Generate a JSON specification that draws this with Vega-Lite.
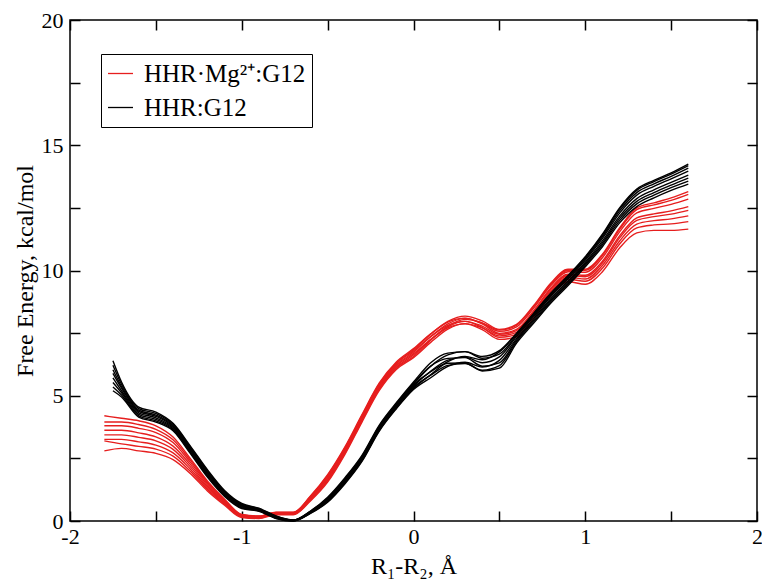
{
"$schema": "https://vega.github.io/schema/vega-lite/v6.json",
"width": 687, "height": 501,
"autosize": {"type": "none"},
"padding": {"left": 70, "top": 20, "right": 5, "bottom": 58},
"background": "white",
"datasets": {
"red": [
{"g":"m","s":"r1","x":-1.8,"y":4.2},{"g":"m","s":"r1","x":-1.7,"y":4.1},{"g":"m","s":"r1","x":-1.6,"y":4.0},{"g":"m","s":"r1","x":-1.5,"y":3.8},{"g":"m","s":"r1","x":-1.4,"y":3.35},{"g":"m","s":"r1","x":-1.3,"y":2.5},{"g":"m","s":"r1","x":-1.2,"y":1.6},{"g":"m","s":"r1","x":-1.1,"y":0.87},{"g":"m","s":"r1","x":-1.0,"y":0.26},{"g":"m","s":"r1","x":-0.9,"y":0.2},{"g":"m","s":"r1","x":-0.8,"y":0.35},{"g":"m","s":"r1","x":-0.7,"y":0.35},{"g":"m","s":"r1","x":-0.6,"y":1.0},{"g":"m","s":"r1","x":-0.5,"y":1.85},{"g":"m","s":"r1","x":-0.4,"y":2.95},{"g":"m","s":"r1","x":-0.3,"y":4.25},{"g":"m","s":"r1","x":-0.2,"y":5.5},{"g":"m","s":"r1","x":-0.1,"y":6.35},{"g":"m","s":"r1","x":0.0,"y":6.88},{"g":"m","s":"r1","x":0.1,"y":7.47},{"g":"m","s":"r1","x":0.2,"y":7.94},{"g":"m","s":"r1","x":0.3,"y":8.1},{"g":"m","s":"r1","x":0.4,"y":7.87},{"g":"m","s":"r1","x":0.5,"y":7.49},{"g":"m","s":"r1","x":0.6,"y":7.65},{"g":"m","s":"r1","x":0.7,"y":8.4},{"g":"m","s":"r1","x":0.8,"y":9.3},{"g":"m","s":"r1","x":0.9,"y":9.85},{"g":"m","s":"r1","x":1.0,"y":9.81},{"g":"m","s":"r1","x":1.1,"y":10.37},{"g":"m","s":"r1","x":1.2,"y":11.38},{"g":"m","s":"r1","x":1.3,"y":12.1},{"g":"m","s":"r1","x":1.4,"y":12.26},{"g":"m","s":"r1","x":1.5,"y":12.38},{"g":"m","s":"r1","x":1.6,"y":12.55},
{"g":"m","s":"r2","x":-1.8,"y":3.95},{"g":"m","s":"r2","x":-1.7,"y":3.95},{"g":"m","s":"r2","x":-1.6,"y":3.85},{"g":"m","s":"r2","x":-1.5,"y":3.66},{"g":"m","s":"r2","x":-1.4,"y":3.24},{"g":"m","s":"r2","x":-1.3,"y":2.43},{"g":"m","s":"r2","x":-1.2,"y":1.55},{"g":"m","s":"r2","x":-1.1,"y":0.84},{"g":"m","s":"r2","x":-1.0,"y":0.25},{"g":"m","s":"r2","x":-0.9,"y":0.19},{"g":"m","s":"r2","x":-0.8,"y":0.34},{"g":"m","s":"r2","x":-0.7,"y":0.34},{"g":"m","s":"r2","x":-0.6,"y":0.98},{"g":"m","s":"r2","x":-0.5,"y":1.81},{"g":"m","s":"r2","x":-0.4,"y":2.91},{"g":"m","s":"r2","x":-0.3,"y":4.21},{"g":"m","s":"r2","x":-0.2,"y":5.46},{"g":"m","s":"r2","x":-0.1,"y":6.31},{"g":"m","s":"r2","x":0.0,"y":6.84},{"g":"m","s":"r2","x":0.1,"y":7.46},{"g":"m","s":"r2","x":0.2,"y":7.97},{"g":"m","s":"r2","x":0.3,"y":8.18},{"g":"m","s":"r2","x":0.4,"y":7.99},{"g":"m","s":"r2","x":0.5,"y":7.65},{"g":"m","s":"r2","x":0.6,"y":7.85},{"g":"m","s":"r2","x":0.7,"y":8.6},{"g":"m","s":"r2","x":0.8,"y":9.5},{"g":"m","s":"r2","x":0.9,"y":10.05},{"g":"m","s":"r2","x":1.0,"y":10.05},{"g":"m","s":"r2","x":1.1,"y":10.65},{"g":"m","s":"r2","x":1.2,"y":11.7},{"g":"m","s":"r2","x":1.3,"y":12.5},{"g":"m","s":"r2","x":1.4,"y":12.7},{"g":"m","s":"r2","x":1.5,"y":12.9},{"g":"m","s":"r2","x":1.6,"y":13.15},
{"g":"m","s":"r3","x":-1.8,"y":3.8},{"g":"m","s":"r3","x":-1.7,"y":3.8},{"g":"m","s":"r3","x":-1.6,"y":3.7},{"g":"m","s":"r3","x":-1.5,"y":3.53},{"g":"m","s":"r3","x":-1.4,"y":3.13},{"g":"m","s":"r3","x":-1.3,"y":2.35},{"g":"m","s":"r3","x":-1.2,"y":1.5},{"g":"m","s":"r3","x":-1.1,"y":0.81},{"g":"m","s":"r3","x":-1.0,"y":0.23},{"g":"m","s":"r3","x":-0.9,"y":0.18},{"g":"m","s":"r3","x":-0.8,"y":0.33},{"g":"m","s":"r3","x":-0.7,"y":0.33},{"g":"m","s":"r3","x":-0.6,"y":0.95},{"g":"m","s":"r3","x":-0.5,"y":1.78},{"g":"m","s":"r3","x":-0.4,"y":2.88},{"g":"m","s":"r3","x":-0.3,"y":4.18},{"g":"m","s":"r3","x":-0.2,"y":5.43},{"g":"m","s":"r3","x":-0.1,"y":6.28},{"g":"m","s":"r3","x":0.0,"y":6.79},{"g":"m","s":"r3","x":0.1,"y":7.36},{"g":"m","s":"r3","x":0.2,"y":7.81},{"g":"m","s":"r3","x":0.3,"y":7.97},{"g":"m","s":"r3","x":0.4,"y":7.72},{"g":"m","s":"r3","x":0.5,"y":7.33},{"g":"m","s":"r3","x":0.6,"y":7.45},{"g":"m","s":"r3","x":0.7,"y":8.2},{"g":"m","s":"r3","x":0.8,"y":9.1},{"g":"m","s":"r3","x":0.9,"y":9.65},{"g":"m","s":"r3","x":1.0,"y":9.57},{"g":"m","s":"r3","x":1.1,"y":10.09},{"g":"m","s":"r3","x":1.2,"y":11.06},{"g":"m","s":"r3","x":1.3,"y":11.7},{"g":"m","s":"r3","x":1.4,"y":11.82},{"g":"m","s":"r3","x":1.5,"y":11.86},{"g":"m","s":"r3","x":1.6,"y":11.95},
{"g":"m","s":"r4","x":-1.8,"y":3.62},{"g":"m","s":"r4","x":-1.7,"y":3.62},{"g":"m","s":"r4","x":-1.6,"y":3.52},{"g":"m","s":"r4","x":-1.5,"y":3.36},{"g":"m","s":"r4","x":-1.4,"y":2.99},{"g":"m","s":"r4","x":-1.3,"y":2.26},{"g":"m","s":"r4","x":-1.2,"y":1.44},{"g":"m","s":"r4","x":-1.1,"y":0.77},{"g":"m","s":"r4","x":-1.0,"y":0.21},{"g":"m","s":"r4","x":-0.9,"y":0.16},{"g":"m","s":"r4","x":-0.8,"y":0.31},{"g":"m","s":"r4","x":-0.7,"y":0.31},{"g":"m","s":"r4","x":-0.6,"y":0.92},{"g":"m","s":"r4","x":-0.5,"y":1.73},{"g":"m","s":"r4","x":-0.4,"y":2.83},{"g":"m","s":"r4","x":-0.3,"y":4.13},{"g":"m","s":"r4","x":-0.2,"y":5.38},{"g":"m","s":"r4","x":-0.1,"y":6.23},{"g":"m","s":"r4","x":0.0,"y":6.74},{"g":"m","s":"r4","x":0.1,"y":7.36},{"g":"m","s":"r4","x":0.2,"y":7.87},{"g":"m","s":"r4","x":0.3,"y":8.09},{"g":"m","s":"r4","x":0.4,"y":7.9},{"g":"m","s":"r4","x":0.5,"y":7.57},{"g":"m","s":"r4","x":0.6,"y":7.75},{"g":"m","s":"r4","x":0.7,"y":8.5},{"g":"m","s":"r4","x":0.8,"y":9.4},{"g":"m","s":"r4","x":0.9,"y":9.95},{"g":"m","s":"r4","x":1.0,"y":9.93},{"g":"m","s":"r4","x":1.1,"y":10.51},{"g":"m","s":"r4","x":1.2,"y":11.54},{"g":"m","s":"r4","x":1.3,"y":12.3},{"g":"m","s":"r4","x":1.4,"y":12.48},{"g":"m","s":"r4","x":1.5,"y":12.64},{"g":"m","s":"r4","x":1.6,"y":12.85},
{"g":"m","s":"r5","x":-1.8,"y":3.44},{"g":"m","s":"r5","x":-1.7,"y":3.44},{"g":"m","s":"r5","x":-1.6,"y":3.34},{"g":"m","s":"r5","x":-1.5,"y":3.2},{"g":"m","s":"r5","x":-1.4,"y":2.86},{"g":"m","s":"r5","x":-1.3,"y":2.17},{"g":"m","s":"r5","x":-1.2,"y":1.38},{"g":"m","s":"r5","x":-1.1,"y":0.74},{"g":"m","s":"r5","x":-1.0,"y":0.19},{"g":"m","s":"r5","x":-0.9,"y":0.15},{"g":"m","s":"r5","x":-0.8,"y":0.3},{"g":"m","s":"r5","x":-0.7,"y":0.3},{"g":"m","s":"r5","x":-0.6,"y":0.89},{"g":"m","s":"r5","x":-0.5,"y":1.69},{"g":"m","s":"r5","x":-0.4,"y":2.79},{"g":"m","s":"r5","x":-0.3,"y":4.09},{"g":"m","s":"r5","x":-0.2,"y":5.34},{"g":"m","s":"r5","x":-0.1,"y":6.19},{"g":"m","s":"r5","x":0.0,"y":6.68},{"g":"m","s":"r5","x":0.1,"y":7.24},{"g":"m","s":"r5","x":0.2,"y":7.71},{"g":"m","s":"r5","x":0.3,"y":7.87},{"g":"m","s":"r5","x":0.4,"y":7.64},{"g":"m","s":"r5","x":0.5,"y":7.25},{"g":"m","s":"r5","x":0.6,"y":7.35},{"g":"m","s":"r5","x":0.7,"y":8.1},{"g":"m","s":"r5","x":0.8,"y":9.0},{"g":"m","s":"r5","x":0.9,"y":9.55},{"g":"m","s":"r5","x":1.0,"y":9.45},{"g":"m","s":"r5","x":1.1,"y":9.95},{"g":"m","s":"r5","x":1.2,"y":10.9},{"g":"m","s":"r5","x":1.3,"y":11.5},{"g":"m","s":"r5","x":1.4,"y":11.6},{"g":"m","s":"r5","x":1.5,"y":11.6},{"g":"m","s":"r5","x":1.6,"y":11.65},
{"g":"m","s":"r6","x":-1.8,"y":3.26},{"g":"m","s":"r6","x":-1.7,"y":3.26},{"g":"m","s":"r6","x":-1.6,"y":3.16},{"g":"m","s":"r6","x":-1.5,"y":3.03},{"g":"m","s":"r6","x":-1.4,"y":2.72},{"g":"m","s":"r6","x":-1.3,"y":2.08},{"g":"m","s":"r6","x":-1.2,"y":1.32},{"g":"m","s":"r6","x":-1.1,"y":0.7},{"g":"m","s":"r6","x":-1.0,"y":0.18},{"g":"m","s":"r6","x":-0.9,"y":0.13},{"g":"m","s":"r6","x":-0.8,"y":0.28},{"g":"m","s":"r6","x":-0.7,"y":0.28},{"g":"m","s":"r6","x":-0.6,"y":0.86},{"g":"m","s":"r6","x":-0.5,"y":1.64},{"g":"m","s":"r6","x":-0.4,"y":2.74},{"g":"m","s":"r6","x":-0.3,"y":4.04},{"g":"m","s":"r6","x":-0.2,"y":5.29},{"g":"m","s":"r6","x":-0.1,"y":6.14},{"g":"m","s":"r6","x":0.0,"y":6.63},{"g":"m","s":"r6","x":0.1,"y":7.24},{"g":"m","s":"r6","x":0.2,"y":7.75},{"g":"m","s":"r6","x":0.3,"y":7.97},{"g":"m","s":"r6","x":0.4,"y":7.78},{"g":"m","s":"r6","x":0.5,"y":7.45},{"g":"m","s":"r6","x":0.6,"y":7.6},{"g":"m","s":"r6","x":0.7,"y":8.35},{"g":"m","s":"r6","x":0.8,"y":9.25},{"g":"m","s":"r6","x":0.9,"y":9.8},{"g":"m","s":"r6","x":1.0,"y":9.75},{"g":"m","s":"r6","x":1.1,"y":10.3},{"g":"m","s":"r6","x":1.2,"y":11.3},{"g":"m","s":"r6","x":1.3,"y":12.0},{"g":"m","s":"r6","x":1.4,"y":12.15},{"g":"m","s":"r6","x":1.5,"y":12.25},{"g":"m","s":"r6","x":1.6,"y":12.4},
{"g":"m","s":"r7","x":-1.8,"y":3.2},{"g":"m","s":"r7","x":-1.7,"y":3.08},{"g":"m","s":"r7","x":-1.6,"y":2.98},{"g":"m","s":"r7","x":-1.5,"y":2.87},{"g":"m","s":"r7","x":-1.4,"y":2.59},{"g":"m","s":"r7","x":-1.3,"y":1.99},{"g":"m","s":"r7","x":-1.2,"y":1.26},{"g":"m","s":"r7","x":-1.1,"y":0.67},{"g":"m","s":"r7","x":-1.0,"y":0.16},{"g":"m","s":"r7","x":-0.9,"y":0.12},{"g":"m","s":"r7","x":-0.8,"y":0.27},{"g":"m","s":"r7","x":-0.7,"y":0.27},{"g":"m","s":"r7","x":-0.6,"y":0.83},{"g":"m","s":"r7","x":-0.5,"y":1.6},{"g":"m","s":"r7","x":-0.4,"y":2.7},{"g":"m","s":"r7","x":-0.3,"y":4.0},{"g":"m","s":"r7","x":-0.2,"y":5.25},{"g":"m","s":"r7","x":-0.1,"y":6.1},{"g":"m","s":"r7","x":0.0,"y":6.57},{"g":"m","s":"r7","x":0.1,"y":7.22},{"g":"m","s":"r7","x":0.2,"y":7.78},{"g":"m","s":"r7","x":0.3,"y":8.05},{"g":"m","s":"r7","x":0.4,"y":7.91},{"g":"m","s":"r7","x":0.5,"y":7.62},{"g":"m","s":"r7","x":0.6,"y":7.81},{"g":"m","s":"r7","x":0.7,"y":8.56},{"g":"m","s":"r7","x":0.8,"y":9.46},{"g":"m","s":"r7","x":0.9,"y":10.01},{"g":"m","s":"r7","x":1.0,"y":10.01},{"g":"m","s":"r7","x":1.1,"y":10.6},{"g":"m","s":"r7","x":1.2,"y":11.64},{"g":"m","s":"r7","x":1.3,"y":12.43},{"g":"m","s":"r7","x":1.4,"y":12.62},{"g":"m","s":"r7","x":1.5,"y":12.8},{"g":"m","s":"r7","x":1.6,"y":13.04},
{"g":"m","s":"r8","x":-1.8,"y":2.8},{"g":"m","s":"r8","x":-1.7,"y":2.9},{"g":"m","s":"r8","x":-1.6,"y":2.8},{"g":"m","s":"r8","x":-1.5,"y":2.7},{"g":"m","s":"r8","x":-1.4,"y":2.45},{"g":"m","s":"r8","x":-1.3,"y":1.9},{"g":"m","s":"r8","x":-1.2,"y":1.2},{"g":"m","s":"r8","x":-1.1,"y":0.63},{"g":"m","s":"r8","x":-1.0,"y":0.14},{"g":"m","s":"r8","x":-0.9,"y":0.1},{"g":"m","s":"r8","x":-0.8,"y":0.25},{"g":"m","s":"r8","x":-0.7,"y":0.25},{"g":"m","s":"r8","x":-0.6,"y":0.8},{"g":"m","s":"r8","x":-0.5,"y":1.55},{"g":"m","s":"r8","x":-0.4,"y":2.65},{"g":"m","s":"r8","x":-0.3,"y":3.95},{"g":"m","s":"r8","x":-0.2,"y":5.2},{"g":"m","s":"r8","x":-0.1,"y":6.05},{"g":"m","s":"r8","x":0.0,"y":6.52},{"g":"m","s":"r8","x":0.1,"y":7.13},{"g":"m","s":"r8","x":0.2,"y":7.66},{"g":"m","s":"r8","x":0.3,"y":7.88},{"g":"m","s":"r8","x":0.4,"y":7.71},{"g":"m","s":"r8","x":0.5,"y":7.39},{"g":"m","s":"r8","x":0.6,"y":7.53},{"g":"m","s":"r8","x":0.7,"y":8.28},{"g":"m","s":"r8","x":0.8,"y":9.18},{"g":"m","s":"r8","x":0.9,"y":9.73},{"g":"m","s":"r8","x":1.0,"y":9.66},{"g":"m","s":"r8","x":1.1,"y":10.2},{"g":"m","s":"r8","x":1.2,"y":11.18},{"g":"m","s":"r8","x":1.3,"y":11.85},{"g":"m","s":"r8","x":1.4,"y":11.99},{"g":"m","s":"r8","x":1.5,"y":12.06},{"g":"m","s":"r8","x":1.6,"y":12.18}
],
"black": [
{"g":"f","s":"b1","x":-1.75,"y":6.4},{"g":"f","s":"b1","x":-1.7,"y":5.55},{"g":"f","s":"b1","x":-1.6,"y":4.55},{"g":"f","s":"b1","x":-1.5,"y":4.35},{"g":"f","s":"b1","x":-1.4,"y":3.9},{"g":"f","s":"b1","x":-1.3,"y":3.0},{"g":"f","s":"b1","x":-1.2,"y":2.05},{"g":"f","s":"b1","x":-1.1,"y":1.22},{"g":"f","s":"b1","x":-1.0,"y":0.7},{"g":"f","s":"b1","x":-0.9,"y":0.51},{"g":"f","s":"b1","x":-0.8,"y":0.2},{"g":"f","s":"b1","x":-0.7,"y":0.04},{"g":"f","s":"b1","x":-0.6,"y":0.4},{"g":"f","s":"b1","x":-0.5,"y":0.95},{"g":"f","s":"b1","x":-0.4,"y":1.72},{"g":"f","s":"b1","x":-0.3,"y":2.62},{"g":"f","s":"b1","x":-0.2,"y":3.82},{"g":"f","s":"b1","x":-0.1,"y":4.72},{"g":"f","s":"b1","x":0.0,"y":5.55},{"g":"f","s":"b1","x":0.1,"y":6.32},{"g":"f","s":"b1","x":0.2,"y":6.7},{"g":"f","s":"b1","x":0.3,"y":6.76},{"g":"f","s":"b1","x":0.4,"y":6.5},{"g":"f","s":"b1","x":0.5,"y":6.66},{"g":"f","s":"b1","x":0.6,"y":7.42},{"g":"f","s":"b1","x":0.7,"y":8.22},{"g":"f","s":"b1","x":0.8,"y":9.02},{"g":"f","s":"b1","x":0.9,"y":9.72},{"g":"f","s":"b1","x":1.0,"y":10.47},{"g":"f","s":"b1","x":1.1,"y":11.35},{"g":"f","s":"b1","x":1.2,"y":12.38},{"g":"f","s":"b1","x":1.3,"y":13.11},{"g":"f","s":"b1","x":1.4,"y":13.46},{"g":"f","s":"b1","x":1.5,"y":13.76},{"g":"f","s":"b1","x":1.6,"y":14.09},
{"g":"f","s":"b2","x":-1.75,"y":6.22},{"g":"f","s":"b2","x":-1.7,"y":5.46},{"g":"f","s":"b2","x":-1.6,"y":4.49},{"g":"f","s":"b2","x":-1.5,"y":4.29},{"g":"f","s":"b2","x":-1.4,"y":3.86},{"g":"f","s":"b2","x":-1.3,"y":2.96},{"g":"f","s":"b2","x":-1.2,"y":2.01},{"g":"f","s":"b2","x":-1.1,"y":1.18},{"g":"f","s":"b2","x":-1.0,"y":0.67},{"g":"f","s":"b2","x":-0.9,"y":0.49},{"g":"f","s":"b2","x":-0.8,"y":0.19},{"g":"f","s":"b2","x":-0.7,"y":0.03},{"g":"f","s":"b2","x":-0.6,"y":0.39},{"g":"f","s":"b2","x":-0.5,"y":0.92},{"g":"f","s":"b2","x":-0.4,"y":1.68},{"g":"f","s":"b2","x":-0.3,"y":2.58},{"g":"f","s":"b2","x":-0.2,"y":3.78},{"g":"f","s":"b2","x":-0.1,"y":4.68},{"g":"f","s":"b2","x":0.0,"y":5.5},{"g":"f","s":"b2","x":0.1,"y":6.18},{"g":"f","s":"b2","x":0.2,"y":6.49},{"g":"f","s":"b2","x":0.3,"y":6.52},{"g":"f","s":"b2","x":0.4,"y":6.18},{"g":"f","s":"b2","x":0.5,"y":6.31},{"g":"f","s":"b2","x":0.6,"y":7.22},{"g":"f","s":"b2","x":0.7,"y":8.02},{"g":"f","s":"b2","x":0.8,"y":8.82},{"g":"f","s":"b2","x":0.9,"y":9.52},{"g":"f","s":"b2","x":1.0,"y":10.27},{"g":"f","s":"b2","x":1.1,"y":11.1},{"g":"f","s":"b2","x":1.2,"y":12.08},{"g":"f","s":"b2","x":1.3,"y":12.76},{"g":"f","s":"b2","x":1.4,"y":13.11},{"g":"f","s":"b2","x":1.5,"y":13.41},{"g":"f","s":"b2","x":1.6,"y":13.69},
{"g":"f","s":"b3","x":-1.75,"y":6.04},{"g":"f","s":"b3","x":-1.7,"y":5.37},{"g":"f","s":"b3","x":-1.6,"y":4.43},{"g":"f","s":"b3","x":-1.5,"y":4.23},{"g":"f","s":"b3","x":-1.4,"y":3.81},{"g":"f","s":"b3","x":-1.3,"y":2.91},{"g":"f","s":"b3","x":-1.2,"y":1.96},{"g":"f","s":"b3","x":-1.1,"y":1.15},{"g":"f","s":"b3","x":-1.0,"y":0.64},{"g":"f","s":"b3","x":-0.9,"y":0.47},{"g":"f","s":"b3","x":-0.8,"y":0.17},{"g":"f","s":"b3","x":-0.7,"y":0.03},{"g":"f","s":"b3","x":-0.6,"y":0.37},{"g":"f","s":"b3","x":-0.5,"y":0.89},{"g":"f","s":"b3","x":-0.4,"y":1.65},{"g":"f","s":"b3","x":-0.3,"y":2.55},{"g":"f","s":"b3","x":-0.2,"y":3.75},{"g":"f","s":"b3","x":-0.1,"y":4.65},{"g":"f","s":"b3","x":0.0,"y":5.46},{"g":"f","s":"b3","x":0.1,"y":6.18},{"g":"f","s":"b3","x":0.2,"y":6.63},{"g":"f","s":"b3","x":0.3,"y":6.76},{"g":"f","s":"b3","x":0.4,"y":6.57},{"g":"f","s":"b3","x":0.5,"y":6.8},{"g":"f","s":"b3","x":0.6,"y":7.5},{"g":"f","s":"b3","x":0.7,"y":8.3},{"g":"f","s":"b3","x":0.8,"y":9.1},{"g":"f","s":"b3","x":0.9,"y":9.8},{"g":"f","s":"b3","x":1.0,"y":10.55},{"g":"f","s":"b3","x":1.1,"y":11.45},{"g":"f","s":"b3","x":1.2,"y":12.5},{"g":"f","s":"b3","x":1.3,"y":13.25},{"g":"f","s":"b3","x":1.4,"y":13.6},{"g":"f","s":"b3","x":1.5,"y":13.9},{"g":"f","s":"b3","x":1.6,"y":14.25},
{"g":"f","s":"b4","x":-1.75,"y":5.89},{"g":"f","s":"b4","x":-1.7,"y":5.3},{"g":"f","s":"b4","x":-1.6,"y":4.38},{"g":"f","s":"b4","x":-1.5,"y":4.18},{"g":"f","s":"b4","x":-1.4,"y":3.77},{"g":"f","s":"b4","x":-1.3,"y":2.87},{"g":"f","s":"b4","x":-1.2,"y":1.92},{"g":"f","s":"b4","x":-1.1,"y":1.12},{"g":"f","s":"b4","x":-1.0,"y":0.62},{"g":"f","s":"b4","x":-0.9,"y":0.46},{"g":"f","s":"b4","x":-0.8,"y":0.16},{"g":"f","s":"b4","x":-0.7,"y":0.02},{"g":"f","s":"b4","x":-0.6,"y":0.36},{"g":"f","s":"b4","x":-0.5,"y":0.87},{"g":"f","s":"b4","x":-0.4,"y":1.62},{"g":"f","s":"b4","x":-0.3,"y":2.52},{"g":"f","s":"b4","x":-0.2,"y":3.72},{"g":"f","s":"b4","x":-0.1,"y":4.62},{"g":"f","s":"b4","x":0.0,"y":5.42},{"g":"f","s":"b4","x":0.1,"y":5.96},{"g":"f","s":"b4","x":0.2,"y":6.3},{"g":"f","s":"b4","x":0.3,"y":6.31},{"g":"f","s":"b4","x":0.4,"y":5.99},{"g":"f","s":"b4","x":0.5,"y":6.1},{"g":"f","s":"b4","x":0.6,"y":7.1},{"g":"f","s":"b4","x":0.7,"y":7.9},{"g":"f","s":"b4","x":0.8,"y":8.7},{"g":"f","s":"b4","x":0.9,"y":9.4},{"g":"f","s":"b4","x":1.0,"y":10.15},{"g":"f","s":"b4","x":1.1,"y":10.95},{"g":"f","s":"b4","x":1.2,"y":11.9},{"g":"f","s":"b4","x":1.3,"y":12.55},{"g":"f","s":"b4","x":1.4,"y":12.9},{"g":"f","s":"b4","x":1.5,"y":13.2},{"g":"f","s":"b4","x":1.6,"y":13.45},
{"g":"f","s":"b5","x":-1.75,"y":5.71},{"g":"f","s":"b5","x":-1.7,"y":5.2},{"g":"f","s":"b5","x":-1.6,"y":4.32},{"g":"f","s":"b5","x":-1.5,"y":4.12},{"g":"f","s":"b5","x":-1.4,"y":3.73},{"g":"f","s":"b5","x":-1.3,"y":2.83},{"g":"f","s":"b5","x":-1.2,"y":1.88},{"g":"f","s":"b5","x":-1.1,"y":1.08},{"g":"f","s":"b5","x":-1.0,"y":0.59},{"g":"f","s":"b5","x":-0.9,"y":0.44},{"g":"f","s":"b5","x":-0.8,"y":0.14},{"g":"f","s":"b5","x":-0.7,"y":0.02},{"g":"f","s":"b5","x":-0.6,"y":0.34},{"g":"f","s":"b5","x":-0.5,"y":0.84},{"g":"f","s":"b5","x":-0.4,"y":1.58},{"g":"f","s":"b5","x":-0.3,"y":2.48},{"g":"f","s":"b5","x":-0.2,"y":3.68},{"g":"f","s":"b5","x":-0.1,"y":4.58},{"g":"f","s":"b5","x":0.0,"y":5.38},{"g":"f","s":"b5","x":0.1,"y":5.98},{"g":"f","s":"b5","x":0.2,"y":6.42},{"g":"f","s":"b5","x":0.3,"y":6.54},{"g":"f","s":"b5","x":0.4,"y":6.32},{"g":"f","s":"b5","x":0.5,"y":6.55},{"g":"f","s":"b5","x":0.6,"y":7.36},{"g":"f","s":"b5","x":0.7,"y":8.16},{"g":"f","s":"b5","x":0.8,"y":8.96},{"g":"f","s":"b5","x":0.9,"y":9.66},{"g":"f","s":"b5","x":1.0,"y":10.41},{"g":"f","s":"b5","x":1.1,"y":11.28},{"g":"f","s":"b5","x":1.2,"y":12.29},{"g":"f","s":"b5","x":1.3,"y":13.01},{"g":"f","s":"b5","x":1.4,"y":13.36},{"g":"f","s":"b5","x":1.5,"y":13.66},{"g":"f","s":"b5","x":1.6,"y":13.97},
{"g":"f","s":"b6","x":-1.75,"y":5.53},{"g":"f","s":"b6","x":-1.7,"y":5.12},{"g":"f","s":"b6","x":-1.6,"y":4.26},{"g":"f","s":"b6","x":-1.5,"y":4.06},{"g":"f","s":"b6","x":-1.4,"y":3.68},{"g":"f","s":"b6","x":-1.3,"y":2.78},{"g":"f","s":"b6","x":-1.2,"y":1.83},{"g":"f","s":"b6","x":-1.1,"y":1.05},{"g":"f","s":"b6","x":-1.0,"y":0.56},{"g":"f","s":"b6","x":-0.9,"y":0.42},{"g":"f","s":"b6","x":-0.8,"y":0.13},{"g":"f","s":"b6","x":-0.7,"y":0.01},{"g":"f","s":"b6","x":-0.6,"y":0.33},{"g":"f","s":"b6","x":-0.5,"y":0.81},{"g":"f","s":"b6","x":-0.4,"y":1.55},{"g":"f","s":"b6","x":-0.3,"y":2.45},{"g":"f","s":"b6","x":-0.2,"y":3.65},{"g":"f","s":"b6","x":-0.1,"y":4.55},{"g":"f","s":"b6","x":0.0,"y":5.33},{"g":"f","s":"b6","x":0.1,"y":5.82},{"g":"f","s":"b6","x":0.2,"y":6.21},{"g":"f","s":"b6","x":0.3,"y":6.29},{"g":"f","s":"b6","x":0.4,"y":6.02},{"g":"f","s":"b6","x":0.5,"y":6.2},{"g":"f","s":"b6","x":0.6,"y":7.16},{"g":"f","s":"b6","x":0.7,"y":7.96},{"g":"f","s":"b6","x":0.8,"y":8.76},{"g":"f","s":"b6","x":0.9,"y":9.46},{"g":"f","s":"b6","x":1.0,"y":10.21},{"g":"f","s":"b6","x":1.1,"y":11.03},{"g":"f","s":"b6","x":1.2,"y":11.99},{"g":"f","s":"b6","x":1.3,"y":12.66},{"g":"f","s":"b6","x":1.4,"y":13.01},{"g":"f","s":"b6","x":1.5,"y":13.31},{"g":"f","s":"b6","x":1.6,"y":13.57},
{"g":"f","s":"b7","x":-1.75,"y":5.35},{"g":"f","s":"b7","x":-1.7,"y":5.03},{"g":"f","s":"b7","x":-1.6,"y":4.2},{"g":"f","s":"b7","x":-1.5,"y":4.0},{"g":"f","s":"b7","x":-1.4,"y":3.64},{"g":"f","s":"b7","x":-1.3,"y":2.74},{"g":"f","s":"b7","x":-1.2,"y":1.79},{"g":"f","s":"b7","x":-1.1,"y":1.01},{"g":"f","s":"b7","x":-1.0,"y":0.53},{"g":"f","s":"b7","x":-0.9,"y":0.41},{"g":"f","s":"b7","x":-0.8,"y":0.11},{"g":"f","s":"b7","x":-0.7,"y":0.0},{"g":"f","s":"b7","x":-0.6,"y":0.31},{"g":"f","s":"b7","x":-0.5,"y":0.78},{"g":"f","s":"b7","x":-0.4,"y":1.51},{"g":"f","s":"b7","x":-0.3,"y":2.41},{"g":"f","s":"b7","x":-0.2,"y":3.61},{"g":"f","s":"b7","x":-0.1,"y":4.51},{"g":"f","s":"b7","x":0.0,"y":5.29},{"g":"f","s":"b7","x":0.1,"y":5.84},{"g":"f","s":"b7","x":0.2,"y":6.36},{"g":"f","s":"b7","x":0.3,"y":6.57},{"g":"f","s":"b7","x":0.4,"y":6.44},{"g":"f","s":"b7","x":0.5,"y":6.75},{"g":"f","s":"b7","x":0.6,"y":7.47},{"g":"f","s":"b7","x":0.7,"y":8.27},{"g":"f","s":"b7","x":0.8,"y":9.07},{"g":"f","s":"b7","x":0.9,"y":9.77},{"g":"f","s":"b7","x":1.0,"y":10.52},{"g":"f","s":"b7","x":1.1,"y":11.41},{"g":"f","s":"b7","x":1.2,"y":12.46},{"g":"f","s":"b7","x":1.3,"y":13.2},{"g":"f","s":"b7","x":1.4,"y":13.55},{"g":"f","s":"b7","x":1.5,"y":13.85},{"g":"f","s":"b7","x":1.6,"y":14.19},
{"g":"f","s":"b8","x":-1.75,"y":5.2},{"g":"f","s":"b8","x":-1.7,"y":4.95},{"g":"f","s":"b8","x":-1.6,"y":4.15},{"g":"f","s":"b8","x":-1.5,"y":3.95},{"g":"f","s":"b8","x":-1.4,"y":3.6},{"g":"f","s":"b8","x":-1.3,"y":2.7},{"g":"f","s":"b8","x":-1.2,"y":1.75},{"g":"f","s":"b8","x":-1.1,"y":0.98},{"g":"f","s":"b8","x":-1.0,"y":0.5},{"g":"f","s":"b8","x":-0.9,"y":0.39},{"g":"f","s":"b8","x":-0.8,"y":0.1},{"g":"f","s":"b8","x":-0.7,"y":0.0},{"g":"f","s":"b8","x":-0.6,"y":0.3},{"g":"f","s":"b8","x":-0.5,"y":0.75},{"g":"f","s":"b8","x":-0.4,"y":1.48},{"g":"f","s":"b8","x":-0.3,"y":2.38},{"g":"f","s":"b8","x":-0.2,"y":3.58},{"g":"f","s":"b8","x":-0.1,"y":4.48},{"g":"f","s":"b8","x":0.0,"y":5.25},{"g":"f","s":"b8","x":0.1,"y":5.72},{"g":"f","s":"b8","x":0.2,"y":6.17},{"g":"f","s":"b8","x":0.3,"y":6.34},{"g":"f","s":"b8","x":0.4,"y":6.15},{"g":"f","s":"b8","x":0.5,"y":6.41},{"g":"f","s":"b8","x":0.6,"y":7.28},{"g":"f","s":"b8","x":0.7,"y":8.08},{"g":"f","s":"b8","x":0.8,"y":8.88},{"g":"f","s":"b8","x":0.9,"y":9.58},{"g":"f","s":"b8","x":1.0,"y":10.33},{"g":"f","s":"b8","x":1.1,"y":11.18},{"g":"f","s":"b8","x":1.2,"y":12.17},{"g":"f","s":"b8","x":1.3,"y":12.87},{"g":"f","s":"b8","x":1.4,"y":13.22},{"g":"f","s":"b8","x":1.5,"y":13.52},{"g":"f","s":"b8","x":1.6,"y":13.81}
]
},
"config": {
"font": "Liberation Serif",
"view": {"stroke": "black", "strokeWidth": 1.5},
"axis": {"domain": false, "grid": false, "ticks": true, "zindex": 2, "tickColor": "black", "tickWidth": 1.5, "labelColor": "black", "titleColor": "black", "labelFont": "Liberation Serif", "titleFont": "Liberation Serif", "labelFontWeight": "normal", "titleFontWeight": "normal", "labelFlush": false, "labelOverlap": false, "labelBound": false}
},
"resolve": {"axis": {"x": "independent", "y": "independent"}},
"layer": [
{
"data": {"name": "red"},
"mark": {"type": "line", "interpolate": "monotone", "strokeWidth": 1.4},
"encoding": {
"x": {"field": "x", "type": "quantitative", "scale": {"domain": [-2, 2], "nice": false, "zero": false},
 "axis": {"orient": "bottom", "tickSize": -10, "values": [-2,-1.5,-1,-0.5,0,0.5,1,1.5,2],
  "labelExpr": "datum.value % 1 === 0 ? '' + datum.value : ''",
  "labelFontSize": 22, "labelPadding": 32, "labelBaseline": "alphabetic",
  "title": "R₁-R₂, Å", "titleFontSize": 24, "titleBaseline": "alphabetic", "titleY": 52}},
"y": {"field": "y", "type": "quantitative", "scale": {"domain": [0, 20], "nice": false},
 "axis": {"orient": "left", "tickSize": -10, "values": [0,2.5,5,7.5,10,12.5,15,17.5,20],
  "labelExpr": "datum.value % 5 === 0 ? '' + datum.value : ''",
  "labelFontSize": 22, "labelPadding": 17,
  "title": "Free Energy, kcal/mol", "titleFontSize": 24, "titleBaseline": "alphabetic", "titleX": -38}},
"color": {"field": "g", "type": "nominal", "scale": {"domain": ["m", "f"], "range": ["#e61e1e", "#000000"]},
 "legend": {"orient": "none", "legendX": 31, "legendY": 34, "title": null, "strokeColor": "black", "fillColor": "white", "padding": 6, "labelLimit": 400,
  "symbolType": "stroke", "symbolSize": 625, "symbolStrokeWidth": 1.3, "labelFont": "Liberation Serif", "labelFontSize": 25, "labelColor": "black", "labelOffset": 10, "rowPadding": 7,
  "labelExpr": "datum.value === 'm' ? 'HHR·Mg²⁺:G12' : 'HHR:G12'"}},
"detail": {"field": "s"}
}
},
{
"data": {"name": "black"},
"mark": {"type": "line", "interpolate": "monotone", "strokeWidth": 1.4},
"encoding": {
"x": {"field": "x", "type": "quantitative", "scale": {"domain": [-2, 2], "nice": false, "zero": false},
 "axis": {"orient": "top", "tickSize": -10, "values": [-2,-1.5,-1,-0.5,0,0.5,1,1.5,2],
  "labels": false, "title": null}},
"y": {"field": "y", "type": "quantitative", "scale": {"domain": [0, 20], "nice": false},
 "axis": {"orient": "right", "tickSize": -10, "values": [0,2.5,5,7.5,10,12.5,15,17.5,20],
  "labels": false, "title": null}},
"color": {"field": "g", "type": "nominal", "scale": {"domain": ["m", "f"], "range": ["#e61e1e", "#000000"]},
 "legend": {"orient": "none", "legendX": 31, "legendY": 34, "title": null, "strokeColor": "black", "fillColor": "white", "padding": 6, "labelLimit": 400,
  "symbolType": "stroke", "symbolSize": 625, "symbolStrokeWidth": 1.3, "labelFont": "Liberation Serif", "labelFontSize": 25, "labelColor": "black", "labelOffset": 10, "rowPadding": 7,
  "labelExpr": "datum.value === 'm' ? 'HHR·Mg²⁺:G12' : 'HHR:G12'"}},
"detail": {"field": "s"}
}
}
]
}
